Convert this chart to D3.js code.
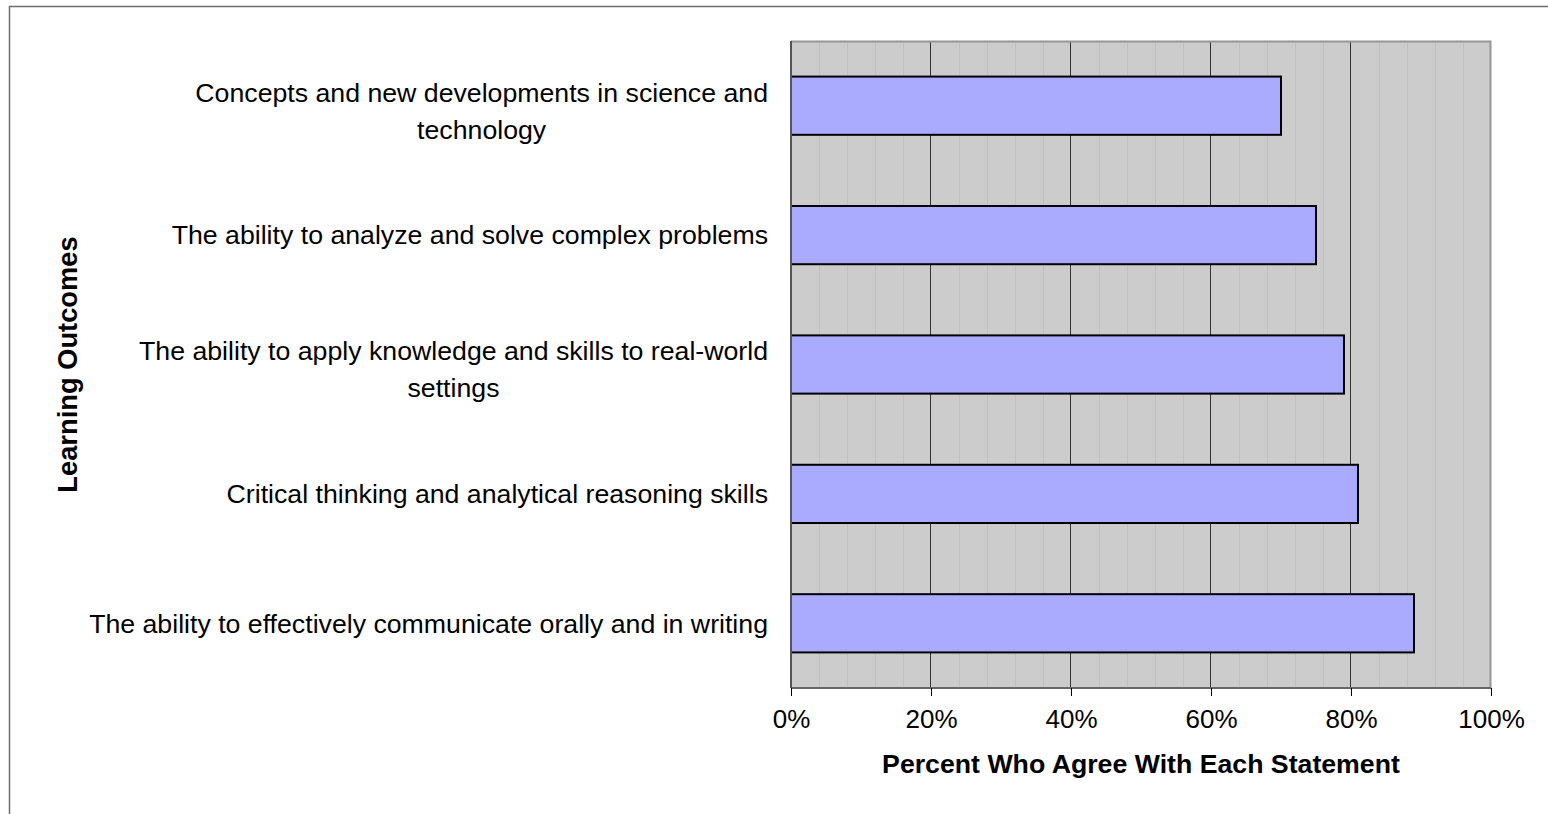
<!DOCTYPE html>
<html>
<head>
<meta charset="utf-8">
<script src="https://cdn.jsdelivr.net/npm/d3@7"></script>
<style>
  html, body { margin: 0; padding: 0; background: #fff; }
  svg { display: block; font-family: "Liberation Sans", Arial, sans-serif; }
</style>
</head>
<body>
<svg id="chart" width="1548" height="814"></svg>
<script>
// ---- data ----
const categories = [
  "Concepts and new developments in science and\ntechnology",
  "The ability to analyze and solve complex problems",
  "The ability to apply knowledge and skills to real-world\nsettings",
  "Critical thinking and analytical reasoning skills",
  "The ability to effectively communicate orally and in writing"
];
const values = [70, 75, 79, 81, 89];
const tickValues = [0, 20, 40, 60, 80, 100];
const minorTickValues = d3.range(0, 101, 4);
const xTitle = "Percent Who Agree With Each Statement";
const yTitle = "Learning Outcomes";

// ---- layout ----
const svg = d3.select("#chart");
const W = 1548, H = 814;
const plot = { left: 791, right: 1491, top: 41, bottom: 688 };
const FS = 26.7, FT = 26, FY = 27.3;

// outer frame (top + left edges visible)
svg.append("line").attr("x1", 9).attr("x2", W).attr("y1", 6.5).attr("y2", 6.5)
  .attr("stroke", "#6e6e6e").attr("stroke-width", 1.5);
svg.append("line").attr("x1", 9.5).attr("x2", 9.5).attr("y1", 6).attr("y2", H)
  .attr("stroke", "#6e6e6e").attr("stroke-width", 1.5);

const x = d3.scaleLinear().domain([0, 100]).range([plot.left, plot.right]);
const y = d3.scaleBand().domain(categories).range([plot.top, plot.bottom])
  .paddingInner(0.55).paddingOuter(0.275);

// plot background
svg.append("rect")
  .attr("x", plot.left).attr("y", plot.top)
  .attr("width", plot.right - plot.left).attr("height", plot.bottom - plot.top)
  .attr("fill", "#cccccc");

// minor gridlines
svg.append("g").selectAll("line")
  .data(minorTickValues.filter(v => v % 20 !== 0))
  .join("line")
  .attr("x1", d => x(d) + 0.5).attr("x2", d => x(d) + 0.5)
  .attr("y1", plot.top).attr("y2", plot.bottom)
  .attr("stroke", "#c0c0c0").attr("stroke-width", 1);

// major gridlines
svg.append("g").selectAll("line")
  .data(tickValues.filter(v => v > 0 && v < 100))
  .join("line")
  .attr("x1", d => x(d) - 0.5).attr("x2", d => x(d) - 0.5)
  .attr("y1", plot.top).attr("y2", plot.bottom)
  .attr("stroke", "#333333").attr("stroke-width", 1);

// plot border: top & right
svg.append("path")
  .attr("d", `M${plot.left},${plot.top + 0.5} H${plot.right - 0.5} V${plot.bottom}`)
  .attr("fill", "none").attr("stroke", "#969696").attr("stroke-width", 2);

// bars
svg.append("g").selectAll("rect")
  .data(categories)
  .join("rect")
  .attr("x", plot.left)
  .attr("y", d => y(d))
  .attr("width", (d, i) => x(values[i]) - plot.left)
  .attr("height", y.bandwidth())
  .attr("fill", "#aaaaff")
  .attr("stroke", "#000")
  .attr("stroke-width", 2);

// x axis
const xAxis = d3.axisBottom(x).tickValues(tickValues).tickFormat(d => d + "%")
  .tickSize(8).tickPadding(14);
const gx = svg.append("g").attr("transform", `translate(0,${plot.bottom})`).call(xAxis);
gx.select(".domain").attr("stroke", "#666").attr("stroke-width", 2).attr("d", `M${plot.left},0H${plot.right}`);
gx.selectAll(".tick line").attr("stroke", "#000").attr("stroke-width", 1);
gx.selectAll(".tick text").attr("font-size", FT).attr("fill", "#000")
  .attr("font-family", "Liberation Sans, Arial, sans-serif");

// y axis line
svg.append("line").attr("x1", plot.left).attr("x2", plot.left)
  .attr("y1", plot.top).attr("y2", plot.bottom)
  .attr("stroke", "#555").attr("stroke-width", 2);

// category labels
const labelRight = 768;
const lineH = 37;
const lg = svg.append("g").attr("font-size", FS).attr("fill", "#000");
categories.forEach(cat => {
  const lines = cat.split("\n");
  const t = lg.append("text").attr("text-anchor", "middle");
  const cy = y(cat) + y.bandwidth() / 2 + (lines.length > 1 ? 5 : 0);
  lines.forEach((ln, i) => {
    t.append("tspan").text(ln)
      .attr("y", cy + (i - (lines.length - 1) / 2) * lineH)
      .attr("dy", "0.35em");
  });
  let maxW = 0;
  t.selectAll("tspan").each(function () { maxW = Math.max(maxW, this.getComputedTextLength()); });
  t.selectAll("tspan").attr("x", labelRight - maxW / 2);
});

// axis titles
svg.append("text")
  .attr("x", (plot.left + plot.right) / 2).attr("y", 764).attr("dy", "0.35em")
  .attr("text-anchor", "middle").attr("font-size", FS).attr("font-weight", "bold")
  .text(xTitle);
svg.append("text")
  .attr("transform", `translate(67,${(plot.top + plot.bottom) / 2}) rotate(-90)`)
  .attr("dy", "0.35em")
  .attr("text-anchor", "middle").attr("font-size", FY).attr("font-weight", "bold")
  .text(yTitle);
</script>
</body>
</html>
